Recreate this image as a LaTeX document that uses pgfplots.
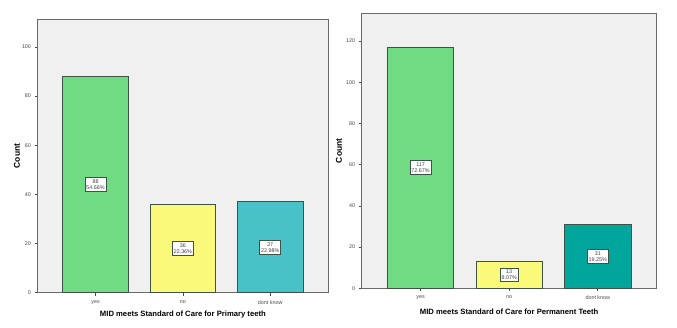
\documentclass[border=0pt]{standalone}
\usepackage{fontspec}
\setmainfont{Liberation Sans}
\usepackage{pgfplots}
\pgfplotsset{compat=1.18}
\definecolor{bggray}{HTML}{F0F0F0}
\definecolor{cgreen}{HTML}{71DB84}
\definecolor{cyellow}{HTML}{FAF97A}
\definecolor{cteal}{HTML}{49C2C7}
\definecolor{cteal2}{HTML}{00A59C}
\definecolor{edgec}{HTML}{3F5248}
\definecolor{axc}{HTML}{6A6A6A}
\definecolor{tickc}{HTML}{4A4A4A}
\pgfplotsset{
  spss/.style={
    scale only axis,
    axis background/.style={fill=bggray},
    axis line style={draw=axc, line width=0.8pt},
    xmin=-0.665, xmax=2.665,
    ymin=0,
    xtick={0,1,2},
    xticklabels={yes,no,dont know},
    tick align=outside,
    xtick pos=left, ytick pos=left,
    major tick length=3bp,
    tick style={draw=tickc, line width=0.6pt},
    /pgf/number format/assume math mode=true,
    tick label style={font=\fontsize{5.4}{6}\selectfont, text=tickc},
    xticklabel style={yshift=-1bp},
    ylabel={Count},
    xlabel style={font=\fontsize{7.7}{9}\selectfont\bfseries, at={(axis description cs:0.5,0)}, anchor=center},
    ylabel style={font=\fontsize{8.5}{10}\selectfont\bfseries, at={(axis description cs:0,0.5)}, anchor=center},
  },
  barst/.style={ybar, bar width=0.75, draw=edgec, line width=0.8pt},
  lab/.style={draw=none, mark=none, point meta=explicit symbolic,
    nodes near coords, nodes near coords align=center,
    every node near coord/.append style={anchor=center, draw=edgec, line width=0.7pt, fill=white,
      align=center, font=\fontsize{5.4}{6}\selectfont, inner xsep=1.3pt, inner ysep=2pt, text=black!75}},
}
\begin{document}
\begin{tikzpicture}
\path[use as bounding box] (0,0) rectangle (677bp,328bp);
\begin{axis}[spss,
  at={(37.5bp,35.3bp)}, anchor=south west,
  width=290.8bp, height=273.4bp,
  ymax=111.2, ytick={0,20,40,60,80,100},
  xlabel={MID meets Standard of Care for Primary teeth},
  xlabel style={yshift=-22.3bp},
  ylabel style={yshift=20.5bp},
]
\addplot[barst, fill=cgreen] coordinates {(0,88)};
\addplot[barst, fill=cyellow] coordinates {(1,36)};
\addplot[barst, fill=cteal] coordinates {(2,37)};
\addplot[lab] coordinates {(0,44) [88\\54.66\%] (1,18) [36\\22.36\%] (2,18.5) [37\\22.98\%]};
\end{axis}
\begin{axis}[spss,
  at={(361.7bp,39.7bp)}, anchor=south west,
  width=295bp, height=275bp,
  ymax=133.4, ytick={0,20,40,60,80,100,120},
  xlabel={MID meets Standard of Care for Permanent Teeth},
  xlabel style={yshift=-23.7bp},
  ylabel style={yshift=22.7bp},
]
\addplot[barst, fill=cgreen] coordinates {(0,117)};
\addplot[barst, fill=cyellow] coordinates {(1,13)};
\addplot[barst, fill=cteal2] coordinates {(2,31)};
\addplot[lab] coordinates {(0,58.5) [117\\72.67\%] (1,6.5) [13\\8.07\%] (2,15.5) [31\\19.25\%]};
\end{axis}
\end{tikzpicture}
\end{document}
